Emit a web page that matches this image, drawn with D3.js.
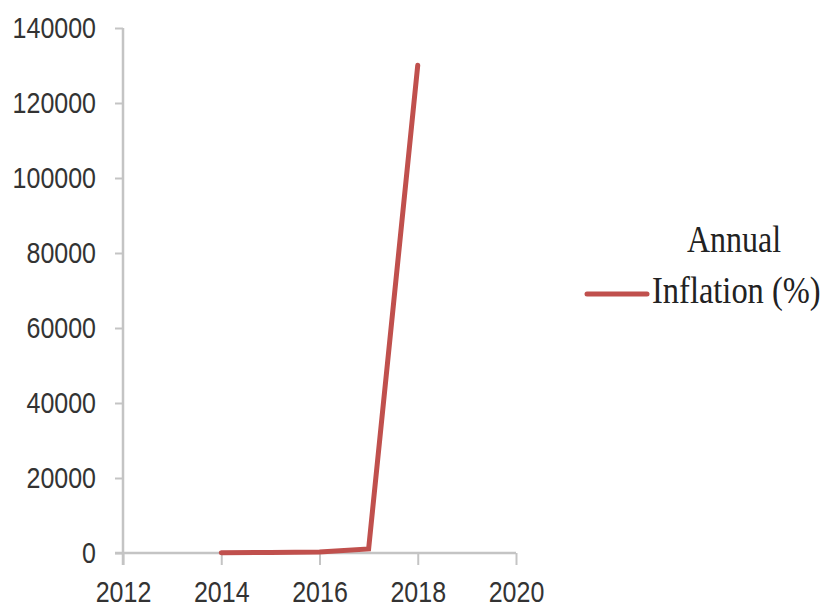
<!DOCTYPE html>
<html>
<head>
<meta charset="utf-8">
<title>Annual Inflation</title>
<script src="https://cdn.jsdelivr.net/npm/d3@7"></script>
<style>
	body { margin: 0; background: #fff; }
</style>
</head>
<body>
<div id="chart"></div>
<script>
	// data
	var years = [2014, 2015, 2016, 2017, 2018];
	var inflation = [62, 122, 255, 1087, 130060];
	var xTicks = [2012, 2014, 2016, 2018, 2020];
	var yTicks = [0, 20000, 40000, 60000, 80000, 100000, 120000, 140000];
	var seriesName = ["Annual", "Inflation (%)"];

	var w = 824;
	var h = 611;
	var stretch = "scale(1,1.18)"; // the text in the picture is a bit tall

	var svg = d3.select("#chart")
				.append("svg")
				.attr("width", w)
				.attr("height", h);

	var x = d3.scaleLinear().domain([2012, 2020]).range([123, 516]);
	var y = d3.scaleLinear().domain([0, 140000]).range([553, 28]);

	// y axis
	var yAxis = svg.append("g")
		.attr("transform", "translate(123,0)")
		.call(d3.axisLeft(y).tickValues(yTicks).tickFormat(d3.format("d"))
			.tickSizeInner(8).tickSizeOuter(0).tickPadding(19));
	yAxis.select(".domain").attr("stroke", "#c4c4c4").attr("stroke-width", 2.5)
		.attr("d", "M0,28V565");
	yAxis.selectAll(".tick line").attr("stroke", "#c4c4c4").attr("stroke-width", 2);
	yAxis.selectAll(".tick text")
		.attr("font-family", "Liberation Sans, Arial, sans-serif")
		.attr("font-size", 25)
		.attr("fill", "#333")
		.attr("transform", stretch);

	// x axis
	var xAxis = svg.append("g")
		.attr("transform", "translate(0,553)")
		.call(d3.axisBottom(x).tickValues(xTicks).tickFormat(d3.format("d"))
			.tickSizeInner(12).tickSizeOuter(0));
	xAxis.select(".domain").attr("stroke", "#c4c4c4").attr("stroke-width", 2.5)
		.attr("d", "M115,0H516");
	xAxis.selectAll(".tick line").attr("stroke", "#c4c4c4").attr("stroke-width", 2);
	xAxis.selectAll(".tick text")
		.attr("font-family", "Liberation Sans, Arial, sans-serif")
		.attr("font-size", 25)
		.attr("fill", "#333")
		.attr("y", 0)
		.attr("dy", null)
		.attr("transform", "translate(0,49) " + stretch);

	// the series
	var line = d3.line()
		.x(function(d, i) { return x(years[i]); })
		.y(function(d) { return y(d); });

	svg.append("path")
		.datum(inflation)
		.attr("d", line)
		.attr("fill", "none")
		.attr("stroke", "#c0504d")
		.attr("stroke-width", 5)
		.attr("stroke-linejoin", "miter")
		.attr("stroke-linecap", "round");

	// legend
	var legend = svg.append("g");
	legend.append("line")
		.attr("x1", 587).attr("x2", 647)
		.attr("y1", 294).attr("y2", 294)
		.attr("stroke", "#c0504d")
		.attr("stroke-width", 5)
		.attr("stroke-linecap", "round");
	legend.append("text")
		.attr("transform", "translate(734,252) " + stretch)
		.attr("text-anchor", "middle")
		.attr("font-family", "Liberation Serif, Times New Roman, serif")
		.attr("font-size", 32)
		.attr("fill", "#222")
		.text(seriesName[0]);
	legend.append("text")
		.attr("transform", "translate(652,303) " + stretch)
		.attr("font-family", "Liberation Serif, Times New Roman, serif")
		.attr("font-size", 32.5)
		.attr("fill", "#222")
		.text(seriesName[1]);
</script>
</body>
</html>
